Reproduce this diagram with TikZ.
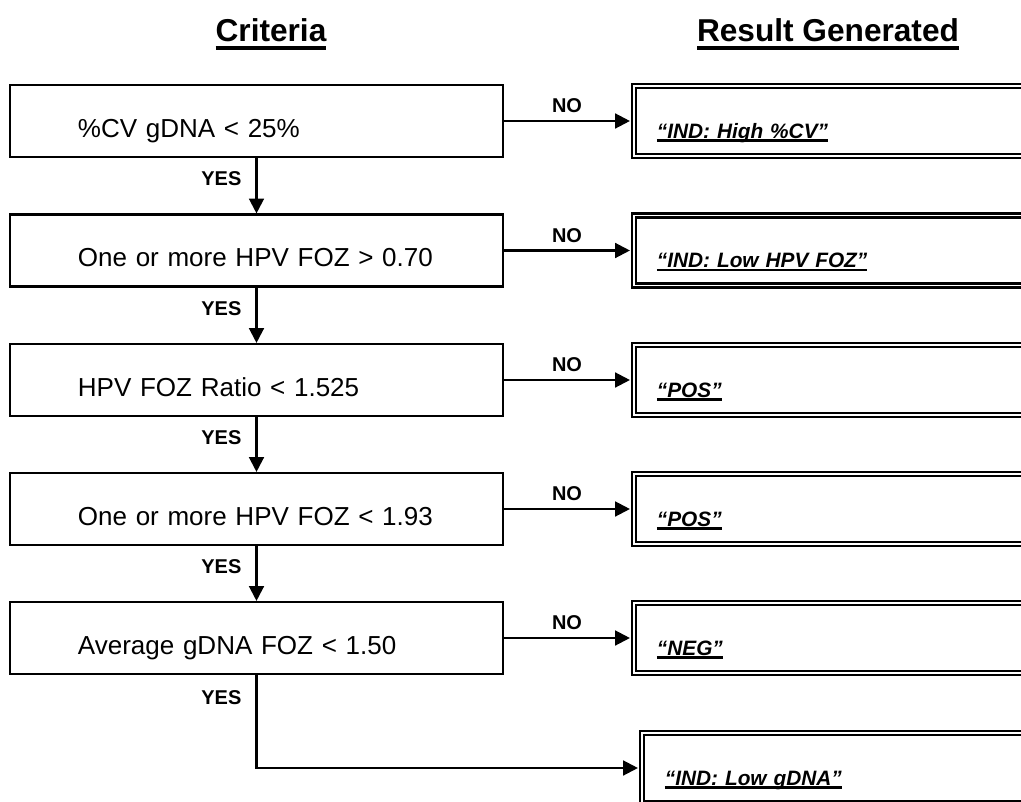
\documentclass[tikz,border=0pt]{standalone}
\usepackage{fontspec}
\setmainfont{Liberation Sans}
\usetikzlibrary{arrows.meta}

\newsavebox{\ulinebox}
\newcommand{\headul}[1]{\sbox{\ulinebox}{#1}\rlap{\rule[-5.7pt]{\wd\ulinebox}{2.5pt}}\usebox{\ulinebox}}
\newcommand{\resul}[1]{\sbox{\ulinebox}{#1}\rlap{\rule[-2.8pt]{\wd\ulinebox}{2pt}}\usebox{\ulinebox}}

\begin{document}
\begin{tikzpicture}[x=0.025cm, y=-0.025cm, >={Triangle[length=0.37cm, width=0.37cm]},
    crit/.style={draw, line width=1.5pt, minimum width=12.325cm, minimum height=1.8cm,
        inner xsep=1.7cm, inner ysep=0pt, text width=8.925cm, align=left,
        text height=0.95cm, text depth=0.15cm, font=\fontsize{18.5}{22}\selectfont},
    result/.style={draw, line width=1.8pt, double, double distance=1.2pt,
        minimum width=10.3cm, minimum height=1.75cm, inner xsep=0.575cm, inner ysep=0pt,
        text width=9.15cm, align=left, text height=0.95cm, text depth=0.1cm, outer sep=0.1cm,
        font=\bfseries\itshape\fontsize{14.8}{17}\selectfont},
    head/.style={font=\bfseries\fontsize{22.5}{26}\selectfont},
    nolbl/.style={midway, above=0.17cm, inner sep=0pt, font=\bfseries\fontsize{14.2}{17}\selectfont},
    yeslbl/.style={left=0.35cm, inner sep=0pt, font=\bfseries\fontsize{14.2}{17}\selectfont},
    link/.style={->, line width=1.6pt}]
    \useasboundingbox (0,0) rectangle (1021,802);
    \clip (0,0) rectangle (1021,802);

    % 1. Tiêu đề hai cột
    \node[head, anchor=base] (hcrit) at (271,42) {\headul{Criteria}};
    \node[head, anchor=base] (hres) at (828,42) {\headul{Result Generated}};

    % 2. Các ô điều kiện
    \node[crit] (c1) at (256.5,121) {\%CV gDNA < 25\%};
    \node[crit] (c2) at (256.5,250.5) {One or more HPV FOZ > 0.70};
    \node[crit] (c3) at (256.5,380) {HPV FOZ Ratio < 1.525};
    \node[crit] (c4) at (256.5,509) {One or more HPV FOZ < 1.93};
    \node[crit] (c5) at (256.5,638) {Average gDNA FOZ < 1.50};

    % 3. Các ô kết quả
    \node[result] (r1) at (840,121) {\resul{“IND: High \%CV”}};
    \node[result] (r2) at (840,250.5) {\resul{“IND: Low HPV FOZ”}};
    \node[result] (r3) at (840,380) {\resul{“POS”}};
    \node[result] (r4) at (840,509) {\resul{“POS”}};
    \node[result] (r5) at (840,638) {\resul{“NEG”}};
    \node[result] (r6) at (848,768) {\resul{“IND: Low gDNA”}};

    % 4. Mũi tên NO
    \draw[link] (c1) -- node[nolbl] {NO} (r1);
    \draw[link] (c2) -- node[nolbl] {NO} (r2);
    \draw[link] (c3) -- node[nolbl] {NO} (r3);
    \draw[link] (c4) -- node[nolbl] {NO} (r4);
    \draw[link] (c5) -- node[nolbl] {NO} (r5);

    % 5. Mũi tên YES
    \draw[link] (c1) -- node[yeslbl, pos=0.38] {YES} (c2);
    \draw[link] (c2) -- node[yeslbl, pos=0.38] {YES} (c3);
    \draw[link] (c3) -- node[yeslbl, pos=0.38] {YES} (c4);
    \draw[link] (c4) -- node[yeslbl, pos=0.38] {YES} (c5);
    \draw[link] (c5) |- node[yeslbl, pos=0.12] {YES} (r6);
\end{tikzpicture}
\end{document}
